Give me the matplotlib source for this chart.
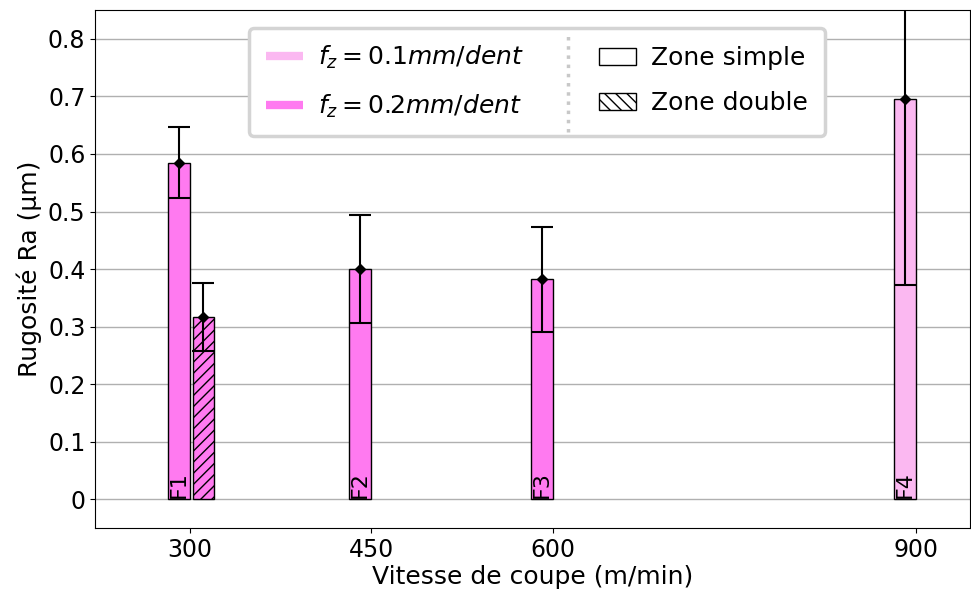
import numpy as np
import matplotlib
matplotlib.use("Agg")
import matplotlib.pyplot as plt
from matplotlib.lines import Line2D
from matplotlib.patches import Patch
from matplotlib.ticker import FuncFormatter

# donnees : zone simple
vitesse = [300, 450, 600, 900]
noms = ["F1", "F2", "F3", "F4"]
ra_simple = [0.585, 0.400, 0.382, 0.695]
err_simple = [0.062, 0.094, 0.091, 0.323]
fz_simple = [0.2, 0.2, 0.2, 0.1]

# zone double
vitesse_double = [300]
ra_double = [0.316]
err_double = [0.059]
fz_double = [0.2]

couleurs = {0.1: "#fbb8f1", 0.2: "#ff7af0"}
larg = 18

plt.rcParams["font.size"] = 17
fig = plt.figure(figsize=(9.71, 5.94), dpi=100)
ax = fig.add_axes([0.098, 0.111, 0.901, 0.872])

for v, ra, e, f, n in zip(vitesse, ra_simple, err_simple, fz_simple, noms):
    ax.bar(v, ra, width=-larg, align="edge", color=couleurs[f],
           edgecolor="black", linewidth=1, zorder=2)
    ax.errorbar(v - larg / 2, ra, yerr=e, fmt="D", color="black",
                markersize=5.5, capsize=8, elinewidth=1.5, capthick=1.5, zorder=3)
    ax.text(v - larg / 2, 0.002, n, rotation=90, ha="center", va="bottom",
            fontsize=16, zorder=4)

for v, ra, e, f in zip(vitesse_double, ra_double, err_double, fz_double):
    ax.bar(v + 2.5, ra, width=larg, align="edge", color=couleurs[f],
           edgecolor="black", linewidth=1, hatch="///", zorder=2)
    ax.errorbar(v + 2.5 + larg / 2, ra, yerr=e, fmt="D", color="black",
                markersize=5.5, capsize=8, elinewidth=1.5, capthick=1.5, zorder=3)

ax.set_xlim(222, 945)
ax.set_ylim(-0.05, 0.85)
ax.set_xticks(vitesse)
ax.set_yticks(np.arange(0, 0.81, 0.1))
ax.yaxis.set_major_formatter(FuncFormatter(lambda y, p: "0" if abs(y) < 1e-9 else f"{y:.1f}"))
ax.tick_params(labelsize=17)
ax.grid(axis="y", color="#b0b0b0", linewidth=1, zorder=0)
ax.set_axisbelow(True)
ax.set_xlabel("Vitesse de coupe (m/min)", fontsize=18, labelpad=2)
ax.set_ylabel("Rugosité Ra (µm)", fontsize=18, labelpad=4)

handles = [
    Line2D([], [], color=couleurs[0.1], lw=6, solid_capstyle="butt"),
    Line2D([], [], color=couleurs[0.2], lw=6, solid_capstyle="butt"),
    Patch(facecolor="white", edgecolor="black", linewidth=1),
    Patch(facecolor="white", edgecolor="black", linewidth=1, hatch="\\\\\\"),
]
labels = [r"$f_z=0.1mm/dent$", r"$f_z=0.2mm/dent$", "Zone simple", "Zone double"]
leg = ax.legend(handles, labels, ncol=2, loc="upper center",
                bbox_to_anchor=(0.505, 0.99), columnspacing=3.0,
                handlelength=1.5, handletextpad=0.6, fontsize=18, framealpha=1,
                fancybox=True, borderpad=0.65, labelspacing=0.85)
leg.get_frame().set_edgecolor("#d4d4d4")
leg.get_frame().set_linewidth(2.5)

# separateur pointille dans la legende
fig.canvas.draw()
bb = leg.get_window_extent().transformed(fig.transFigure.inverted())
fig.add_artist(Line2D([0.585, 0.585], [bb.y0 + 0.006, bb.y1 - 0.006],
                      transform=fig.transFigure, color="#c8c8c8",
                      linestyle=":", linewidth=2.5, zorder=10))

fig.savefig("out.png", dpi=100)
